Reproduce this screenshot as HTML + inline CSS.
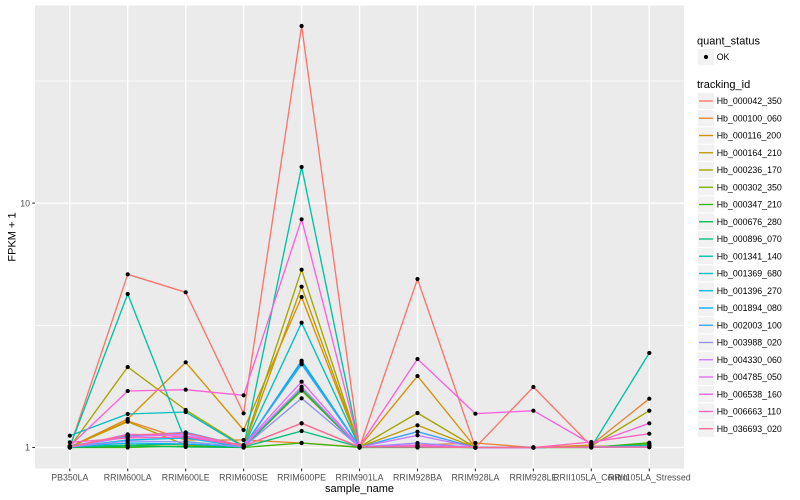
<!DOCTYPE html>
<html><head><meta charset="utf-8"><style>
html,body{margin:0;padding:0;background:#fff;}
svg{display:block;font-family:"Liberation Sans",Arial,sans-serif;}
</style></head><body>
<svg width="800" height="500" viewBox="0 0 800 500" xmlns="http://www.w3.org/2000/svg">
<defs>
<marker id="p" markerWidth="6" markerHeight="6" refX="3" refY="3" markerUnits="userSpaceOnUse"><circle cx="3" cy="3" r="2.1" fill="#000"/></marker>
</defs>
<rect x="0" y="0" width="800" height="500" fill="#fff"/>
<rect x="35" y="5.5" width="649" height="463" fill="#EBEBEB"/>
<g stroke="#fff" fill="none">
<line x1="35" x2="684" y1="325.3" y2="325.3" stroke-width="0.7"/>
<line x1="35" x2="684" y1="81" y2="81" stroke-width="0.7"/>
<line x1="35" x2="684" y1="447.45" y2="447.45" stroke-width="1.4"/>
<line x1="35" x2="684" y1="203.15" y2="203.15" stroke-width="1.4"/>
<g stroke-width="1.4">
<line x1="69.8" x2="69.8" y1="5.5" y2="468.5"/>
<line x1="127.7" x2="127.7" y1="5.5" y2="468.5"/>
<line x1="185.7" x2="185.7" y1="5.5" y2="468.5"/>
<line x1="243.6" x2="243.6" y1="5.5" y2="468.5"/>
<line x1="301.6" x2="301.6" y1="5.5" y2="468.5"/>
<line x1="359.5" x2="359.5" y1="5.5" y2="468.5"/>
<line x1="417.5" x2="417.5" y1="5.5" y2="468.5"/>
<line x1="475.4" x2="475.4" y1="5.5" y2="468.5"/>
<line x1="533.4" x2="533.4" y1="5.5" y2="468.5"/>
<line x1="591.3" x2="591.3" y1="5.5" y2="468.5"/>
<line x1="649.3" x2="649.3" y1="5.5" y2="468.5"/>
</g>
</g>
<g fill="none" stroke-width="1.35" stroke-linejoin="round">
<polyline stroke="#F8766D" points="69.8,447.5 127.7,274.3 185.7,292.3 243.6,413.3 301.6,26 359.5,447.5 417.5,279 475.4,447.5 533.4,387 591.3,446 649.3,447"/>
<polyline stroke="#EA8331" points="69.8,447 127.7,421 185.7,440 243.6,440 301.6,443 359.5,447 417.5,445 475.4,443 533.4,447.5 591.3,445 649.3,398.7"/>
<polyline stroke="#D89000" points="69.8,447 127.7,419 185.7,362.3 243.6,430 301.6,297 359.5,447 417.5,376 475.4,447.5 533.4,447.5 591.3,447 649.3,447"/>
<polyline stroke="#C09B00" points="69.8,447 127.7,421.7 185.7,445 243.6,447 301.6,286.7 359.5,447 417.5,425.3 475.4,447.5 533.4,447.5 591.3,447 649.3,447"/>
<polyline stroke="#A3A500" points="69.8,447 127.7,367 185.7,410 243.6,446 301.6,269.7 359.5,447 417.5,413 475.4,447.5 533.4,447.5 591.3,446 649.3,410.7"/>
<polyline stroke="#7CAE00" points="69.8,447.5 127.7,446 185.7,444 243.6,447 301.6,390.7 359.5,447.5 417.5,446 475.4,447.5 533.4,447.5 591.3,447 649.3,444"/>
<polyline stroke="#39B600" points="69.8,447.5 127.7,447.5 185.7,446 243.6,447.5 301.6,443 359.5,447.5 417.5,447.5 475.4,447.5 533.4,447.5 591.3,447.5 649.3,442.7"/>
<polyline stroke="#00BB4E" points="69.8,447.5 127.7,446 185.7,447 243.6,447.5 301.6,389 359.5,447.5 417.5,447 475.4,447.5 533.4,447.5 591.3,447.5 649.3,446"/>
<polyline stroke="#00BF7D" points="69.8,447 127.7,445 185.7,444 243.6,447 301.6,431 359.5,447 417.5,447 475.4,447.5 533.4,447.5 591.3,447 649.3,445"/>
<polyline stroke="#00C1A3" points="69.8,447 127.7,294 185.7,441.7 243.6,447 301.6,167 359.5,447 417.5,447 475.4,447.5 533.4,447.5 591.3,447 649.3,353"/>
<polyline stroke="#00BFC4" points="69.8,435.7 127.7,414 185.7,412 243.6,447 301.6,322.7 359.5,447 417.5,446 475.4,447.5 533.4,447.5 591.3,447 649.3,446"/>
<polyline stroke="#00BAE0" points="69.8,447 127.7,440 185.7,438 243.6,447 301.6,362.3 359.5,447 417.5,446 475.4,447.5 533.4,447.5 591.3,447 649.3,446"/>
<polyline stroke="#00B0F6" points="69.8,447 127.7,443 185.7,444 243.6,447 301.6,360.7 359.5,447 417.5,447 475.4,447.5 533.4,447.5 591.3,447 649.3,447"/>
<polyline stroke="#35A2FF" points="69.8,446 127.7,436 185.7,432.3 243.6,446 301.6,364.3 359.5,447 417.5,431.7 475.4,447.5 533.4,447.5 591.3,447 649.3,447"/>
<polyline stroke="#9590FF" points="69.8,447 127.7,441 185.7,442 243.6,447 301.6,398.3 359.5,447 417.5,443 475.4,447.5 533.4,447.5 591.3,447 649.3,447"/>
<polyline stroke="#C77CFF" points="69.8,447 127.7,437 185.7,434 243.6,446 301.6,386.7 359.5,447 417.5,435.3 475.4,447.5 533.4,447.5 591.3,447 649.3,447"/>
<polyline stroke="#E76BF3" points="69.8,447 127.7,434.3 185.7,436 243.6,445 301.6,381.7 359.5,447 417.5,445 475.4,447.5 533.4,447.5 591.3,447 649.3,447"/>
<polyline stroke="#FA62DB" points="69.8,446 127.7,391 185.7,389.7 243.6,395.3 301.6,219.3 359.5,446 417.5,359 475.4,413.7 533.4,410.7 591.3,444 649.3,423.3"/>
<polyline stroke="#FF62BC" points="69.8,442.3 127.7,438 185.7,437 243.6,446 301.6,423.3 359.5,447 417.5,446 475.4,447.5 533.4,447.5 591.3,442 649.3,433.7"/>
<polyline stroke="#FF6C91" points="69.8,446.7 127.7,435 185.7,433 243.6,446 301.6,423.3 359.5,447 417.5,447 475.4,447.5 533.4,447.5 591.3,447 649.3,447"/>
</g>
<g fill="none" stroke="none" marker-start="url(#p)" marker-mid="url(#p)" marker-end="url(#p)">
<polyline points="69.8,447.5 127.7,274.3 185.7,292.3 243.6,413.3 301.6,26 359.5,447.5 417.5,279 475.4,447.5 533.4,387 591.3,446 649.3,447"/>
<polyline points="69.8,447 127.7,421 185.7,440 243.6,440 301.6,443 359.5,447 417.5,445 475.4,443 533.4,447.5 591.3,445 649.3,398.7"/>
<polyline points="69.8,447 127.7,419 185.7,362.3 243.6,430 301.6,297 359.5,447 417.5,376 475.4,447.5 533.4,447.5 591.3,447 649.3,447"/>
<polyline points="69.8,447 127.7,421.7 185.7,445 243.6,447 301.6,286.7 359.5,447 417.5,425.3 475.4,447.5 533.4,447.5 591.3,447 649.3,447"/>
<polyline points="69.8,447 127.7,367 185.7,410 243.6,446 301.6,269.7 359.5,447 417.5,413 475.4,447.5 533.4,447.5 591.3,446 649.3,410.7"/>
<polyline points="69.8,447.5 127.7,446 185.7,444 243.6,447 301.6,390.7 359.5,447.5 417.5,446 475.4,447.5 533.4,447.5 591.3,447 649.3,444"/>
<polyline points="69.8,447.5 127.7,447.5 185.7,446 243.6,447.5 301.6,443 359.5,447.5 417.5,447.5 475.4,447.5 533.4,447.5 591.3,447.5 649.3,442.7"/>
<polyline points="69.8,447.5 127.7,446 185.7,447 243.6,447.5 301.6,389 359.5,447.5 417.5,447 475.4,447.5 533.4,447.5 591.3,447.5 649.3,446"/>
<polyline points="69.8,447 127.7,445 185.7,444 243.6,447 301.6,431 359.5,447 417.5,447 475.4,447.5 533.4,447.5 591.3,447 649.3,445"/>
<polyline points="69.8,447 127.7,294 185.7,441.7 243.6,447 301.6,167 359.5,447 417.5,447 475.4,447.5 533.4,447.5 591.3,447 649.3,353"/>
<polyline points="69.8,435.7 127.7,414 185.7,412 243.6,447 301.6,322.7 359.5,447 417.5,446 475.4,447.5 533.4,447.5 591.3,447 649.3,446"/>
<polyline points="69.8,447 127.7,440 185.7,438 243.6,447 301.6,362.3 359.5,447 417.5,446 475.4,447.5 533.4,447.5 591.3,447 649.3,446"/>
<polyline points="69.8,447 127.7,443 185.7,444 243.6,447 301.6,360.7 359.5,447 417.5,447 475.4,447.5 533.4,447.5 591.3,447 649.3,447"/>
<polyline points="69.8,446 127.7,436 185.7,432.3 243.6,446 301.6,364.3 359.5,447 417.5,431.7 475.4,447.5 533.4,447.5 591.3,447 649.3,447"/>
<polyline points="69.8,447 127.7,441 185.7,442 243.6,447 301.6,398.3 359.5,447 417.5,443 475.4,447.5 533.4,447.5 591.3,447 649.3,447"/>
<polyline points="69.8,447 127.7,437 185.7,434 243.6,446 301.6,386.7 359.5,447 417.5,435.3 475.4,447.5 533.4,447.5 591.3,447 649.3,447"/>
<polyline points="69.8,447 127.7,434.3 185.7,436 243.6,445 301.6,381.7 359.5,447 417.5,445 475.4,447.5 533.4,447.5 591.3,447 649.3,447"/>
<polyline points="69.8,446 127.7,391 185.7,389.7 243.6,395.3 301.6,219.3 359.5,446 417.5,359 475.4,413.7 533.4,410.7 591.3,444 649.3,423.3"/>
<polyline points="69.8,442.3 127.7,438 185.7,437 243.6,446 301.6,423.3 359.5,447 417.5,446 475.4,447.5 533.4,447.5 591.3,442 649.3,433.7"/>
<polyline points="69.8,446.7 127.7,435 185.7,433 243.6,446 301.6,423.3 359.5,447 417.5,447 475.4,447.5 533.4,447.5 591.3,447 649.3,447"/>
</g>
<g stroke="#333" stroke-width="1.1">
<line x1="32.25" x2="35" y1="447.45" y2="447.45"/>
<line x1="32.25" x2="35" y1="203.15" y2="203.15"/>
<line x1="69.8" x2="69.8" y1="468.5" y2="471.25"/>
<line x1="127.7" x2="127.7" y1="468.5" y2="471.25"/>
<line x1="185.7" x2="185.7" y1="468.5" y2="471.25"/>
<line x1="243.6" x2="243.6" y1="468.5" y2="471.25"/>
<line x1="301.6" x2="301.6" y1="468.5" y2="471.25"/>
<line x1="359.5" x2="359.5" y1="468.5" y2="471.25"/>
<line x1="417.5" x2="417.5" y1="468.5" y2="471.25"/>
<line x1="475.4" x2="475.4" y1="468.5" y2="471.25"/>
<line x1="533.4" x2="533.4" y1="468.5" y2="471.25"/>
<line x1="591.3" x2="591.3" y1="468.5" y2="471.25"/>
<line x1="649.3" x2="649.3" y1="468.5" y2="471.25"/>
</g>
<g font-size="8.8" fill="#4D4D4D">
<text x="30" y="450.6" text-anchor="end">1</text>
<text x="30" y="206.3" text-anchor="end">10</text>
<g text-anchor="middle">
<text x="69.8" y="480.5">PB350LA</text>
<text x="127.7" y="480.5">RRIM600LA</text>
<text x="185.7" y="480.5">RRIM600LE</text>
<text x="243.6" y="480.5">RRIM600SE</text>
<text x="301.6" y="480.5">RRIM600PE</text>
<text x="359.5" y="480.5">RRIM901LA</text>
<text x="417.5" y="480.5">RRIM928BA</text>
<text x="475.4" y="480.5">RRIM928LA</text>
<text x="533.4" y="480.5">RRIM928LE</text>
<text x="591.3" y="480.5">RRII105LA_Control</text>
<text x="649.3" y="480.5">RRII105LA_Stressed</text>
</g>
</g>
<text x="359.5" y="492" font-size="11" fill="#000" text-anchor="middle">sample_name</text>
<text transform="translate(15.5,237) rotate(-90)" font-size="11" fill="#000" text-anchor="middle">FPKM + 1</text>
<!-- legend -->
<text x="697" y="44.5" font-size="11" fill="#000">quant_status</text>
<rect x="697.3" y="48.4" width="17.3" height="17.3" fill="#F2F2F2" stroke="#fff" stroke-width="1"/>
<circle cx="706" cy="57" r="2.1" fill="#000"/>
<text x="716.7" y="60.1" font-size="8.8" fill="#000">OK</text>
<text x="697" y="88" font-size="11" fill="#000">tracking_id</text>
<g stroke="#fff" stroke-width="1" fill="#F2F2F2">
<rect x="697.3" y="92.36" width="17.3" height="17.3"/>
<rect x="697.3" y="109.61" width="17.3" height="17.3"/>
<rect x="697.3" y="126.86" width="17.3" height="17.3"/>
<rect x="697.3" y="144.11" width="17.3" height="17.3"/>
<rect x="697.3" y="161.36" width="17.3" height="17.3"/>
<rect x="697.3" y="178.61" width="17.3" height="17.3"/>
<rect x="697.3" y="195.86" width="17.3" height="17.3"/>
<rect x="697.3" y="213.11" width="17.3" height="17.3"/>
<rect x="697.3" y="230.36" width="17.3" height="17.3"/>
<rect x="697.3" y="247.61" width="17.3" height="17.3"/>
<rect x="697.3" y="264.86" width="17.3" height="17.3"/>
<rect x="697.3" y="282.11" width="17.3" height="17.3"/>
<rect x="697.3" y="299.36" width="17.3" height="17.3"/>
<rect x="697.3" y="316.61" width="17.3" height="17.3"/>
<rect x="697.3" y="333.86" width="17.3" height="17.3"/>
<rect x="697.3" y="351.11" width="17.3" height="17.3"/>
<rect x="697.3" y="368.36" width="17.3" height="17.3"/>
<rect x="697.3" y="385.61" width="17.3" height="17.3"/>
<rect x="697.3" y="402.86" width="17.3" height="17.3"/>
<rect x="697.3" y="420.11" width="17.3" height="17.3"/>
</g>
<g stroke-width="1.35">
<line x1="699" x2="713" y1="101" y2="101" stroke="#F8766D"/>
<line x1="699" x2="713" y1="118.25" y2="118.25" stroke="#EA8331"/>
<line x1="699" x2="713" y1="135.5" y2="135.5" stroke="#D89000"/>
<line x1="699" x2="713" y1="152.75" y2="152.75" stroke="#C09B00"/>
<line x1="699" x2="713" y1="170" y2="170" stroke="#A3A500"/>
<line x1="699" x2="713" y1="187.25" y2="187.25" stroke="#7CAE00"/>
<line x1="699" x2="713" y1="204.5" y2="204.5" stroke="#39B600"/>
<line x1="699" x2="713" y1="221.75" y2="221.75" stroke="#00BB4E"/>
<line x1="699" x2="713" y1="239" y2="239" stroke="#00BF7D"/>
<line x1="699" x2="713" y1="256.25" y2="256.25" stroke="#00C1A3"/>
<line x1="699" x2="713" y1="273.5" y2="273.5" stroke="#00BFC4"/>
<line x1="699" x2="713" y1="290.75" y2="290.75" stroke="#00BAE0"/>
<line x1="699" x2="713" y1="308" y2="308" stroke="#00B0F6"/>
<line x1="699" x2="713" y1="325.25" y2="325.25" stroke="#35A2FF"/>
<line x1="699" x2="713" y1="342.5" y2="342.5" stroke="#9590FF"/>
<line x1="699" x2="713" y1="359.75" y2="359.75" stroke="#C77CFF"/>
<line x1="699" x2="713" y1="377" y2="377" stroke="#E76BF3"/>
<line x1="699" x2="713" y1="394.25" y2="394.25" stroke="#FA62DB"/>
<line x1="699" x2="713" y1="411.5" y2="411.5" stroke="#FF62BC"/>
<line x1="699" x2="713" y1="428.75" y2="428.75" stroke="#FF6C91"/>
</g>
<g font-size="8.8" fill="#000">
<text x="716.7" y="104.1">Hb_000042_350</text>
<text x="716.7" y="121.35">Hb_000100_060</text>
<text x="716.7" y="138.6">Hb_000116_200</text>
<text x="716.7" y="155.85">Hb_000164_210</text>
<text x="716.7" y="173.1">Hb_000236_170</text>
<text x="716.7" y="190.35">Hb_000302_350</text>
<text x="716.7" y="207.6">Hb_000347_210</text>
<text x="716.7" y="224.85">Hb_000676_280</text>
<text x="716.7" y="242.1">Hb_000896_070</text>
<text x="716.7" y="259.35">Hb_001341_140</text>
<text x="716.7" y="276.6">Hb_001369_680</text>
<text x="716.7" y="293.85">Hb_001396_270</text>
<text x="716.7" y="311.1">Hb_001894_080</text>
<text x="716.7" y="328.35">Hb_002003_100</text>
<text x="716.7" y="345.6">Hb_003988_020</text>
<text x="716.7" y="362.85">Hb_004330_060</text>
<text x="716.7" y="380.1">Hb_004785_050</text>
<text x="716.7" y="397.35">Hb_006538_160</text>
<text x="716.7" y="414.6">Hb_006663_110</text>
<text x="716.7" y="431.85">Hb_036693_020</text>
</g>
</svg>
</body></html>
